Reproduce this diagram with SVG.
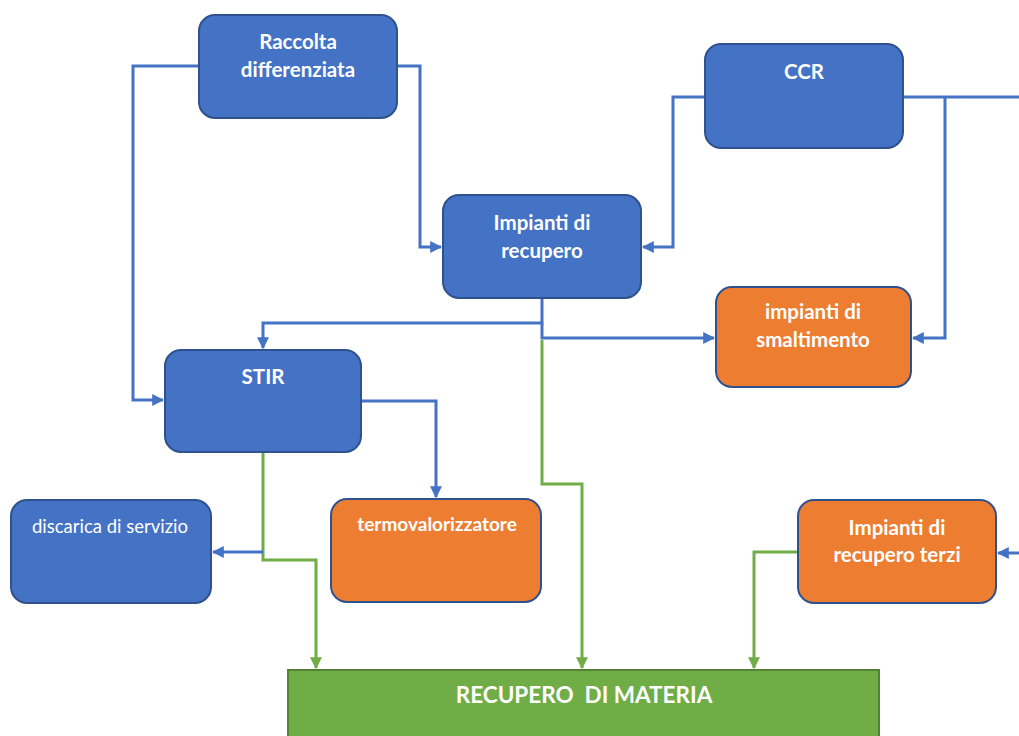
<svg xmlns="http://www.w3.org/2000/svg" width="1019" height="736" viewBox="0 0 1019 736">
<defs>
<marker id="ab" viewBox="0 0 10 10" refX="9" refY="5" markerWidth="4" markerHeight="4" orient="auto" markerUnits="strokeWidth"><path d="M0,0 L10,5 L0,10 z" fill="#4472C4"/></marker>
<marker id="ag" viewBox="0 0 10 10" refX="9" refY="5" markerWidth="4" markerHeight="4" orient="auto" markerUnits="strokeWidth"><path d="M0,0 L10,5 L0,10 z" fill="#70AD47"/></marker>
</defs>
<style>
.b{fill:#4472C4;stroke:#2F528F;stroke-width:2}
.o{fill:#ED7D31;stroke:#2F528F;stroke-width:2}
.g{fill:#70AD47;stroke:#548235;stroke-width:2}
.cb{fill:none;stroke:#4472C4;stroke-width:3}
.cg{fill:none;stroke:#70AD47;stroke-width:3}
text{font-family:Lato,"Open Sans","Liberation Sans",sans-serif;fill:#fff;text-anchor:middle;font-size:20.5px;font-weight:bold}
.n{font-weight:normal}
</style>
<rect width="1019" height="736" fill="#fff"/>
<g id="connectors">
<path class="cb" d="M199,66 H133 V400 H163" marker-end="url(#ab)"/>
<path class="cb" d="M397,66 H420 V247 H441" marker-end="url(#ab)"/>
<path class="cb" d="M705,97 H673 V247 H643" marker-end="url(#ab)"/>
<path class="cb" d="M903,97 H1019"/>
<path class="cb" d="M945,97 V338 H913" marker-end="url(#ab)"/>
<path class="cb" d="M542,298 V323 H263 V348" marker-end="url(#ab)"/>
<path class="cb" d="M542,323 V338 H714" marker-end="url(#ab)"/>
<path class="cg" d="M542,340 V484 H582 V668" marker-end="url(#ag)"/>
<path class="cb" d="M361,401 H436 V497" marker-end="url(#ab)"/>
<path class="cg" d="M263,452 V560 H316 V668" marker-end="url(#ag)"/>
<path class="cb" d="M263,552 H213" marker-end="url(#ab)"/>
<path class="cb" d="M1019,553 H998" marker-end="url(#ab)"/>
<path class="cg" d="M798,552 H754 V668" marker-end="url(#ag)"/>
</g>
<g id="raccolta"><rect class="b" x="199" y="15" width="198" height="103" rx="16"/><text x="298" y="49">Raccolta</text><text x="298" y="77">differenziata</text></g>
<g id="impianti-recupero"><rect class="b" x="443" y="195" width="198" height="103" rx="16"/><text x="542" y="230">Impianti di</text><text x="542" y="258">recupero</text></g>
<g id="ccr"><rect class="b" x="705" y="44" width="198" height="104" rx="16"/><text x="804" y="79">CCR</text></g>
<g id="smaltimento"><rect class="o" x="716" y="287" width="195" height="100" rx="16"/><text x="813" y="319">impianti di</text><text x="813" y="347">smaltimento</text></g>
<g id="stir"><rect class="b" x="165" y="350" width="196" height="102" rx="16"/><text x="263" y="384">STIR</text></g>
<g id="discarica"><rect class="b" x="11" y="500" width="200" height="103" rx="16"/><text class="n" x="110" y="533" style="font-size:18.5px">discarica di servizio</text></g>
<g id="termovalorizzatore"><rect class="o" x="331" y="499" width="210" height="103" rx="16"/><text x="437" y="531" style="font-size:19px">termovalorizzatore</text></g>
<g id="recupero-terzi"><rect class="o" x="798" y="500" width="198" height="103" rx="16"/><text x="897" y="535">Impianti di</text><text x="897" y="562">recupero terzi</text></g>
<g id="recupero-materia"><rect class="g" x="288" y="670" width="591" height="70"/><text x="584" y="703" style="font-size:22.5px;white-space:pre">RECUPERO  DI MATERIA</text></g>
</svg>
